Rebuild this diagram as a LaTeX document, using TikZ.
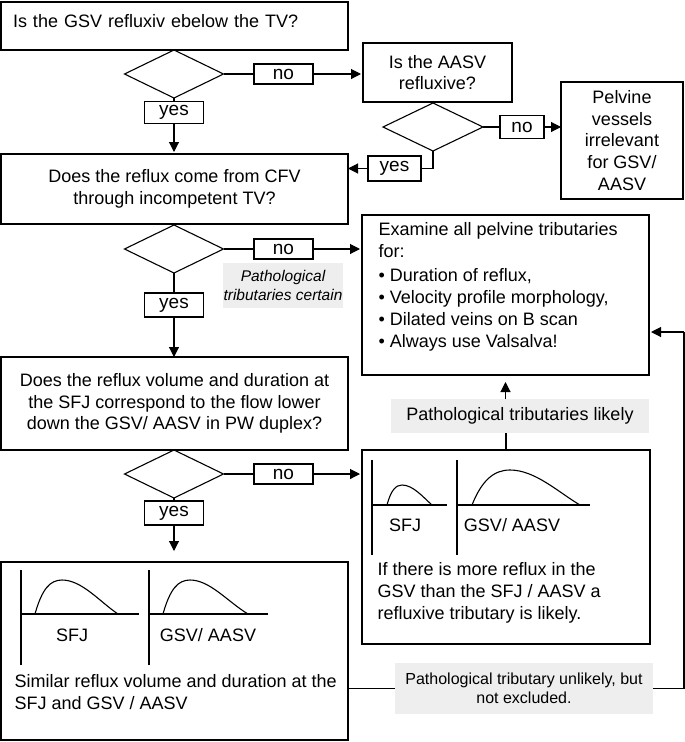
\documentclass[tikz,border=0pt]{standalone}
\usepackage{fontspec}
\setmainfont{Liberation Sans}
\usetikzlibrary{shapes.geometric,arrows.meta}
\definecolor{notegray}{HTML}{EEEEEE}

\begin{document}
\begin{tikzpicture}[x=1pt,y=-1pt,line width=1.1pt,
  font=\fontsize{18}{21.7}\selectfont,
  box node/.style={rectangle,draw,inner sep=0pt,outer sep=0pt},
  dec node/.style={diamond,draw,inner sep=0pt,outer sep=0pt,minimum width=99pt,minimum height=48pt},
  ans node/.style={rectangle,draw,inner sep=0pt,outer sep=0pt,minimum width=59pt,minimum height=21pt,font=\fontsize{19}{19}\selectfont},
  note node/.style={rectangle,fill=notegray,inner sep=0pt,outer sep=0pt,align=center},
  txt node/.style={anchor=north west,align=left,inner sep=0pt},
  arr/.style={-{Triangle[length=10pt,width=10pt]}}]

  \useasboundingbox (0,0) rectangle (685,742);

  % questions on the left
  \node[box node,minimum width=347pt,minimum height=48pt,text width=323pt,align=left,text depth=10pt] (q1) at (174.5,26) {Is the GSV refluxiv ebelow the TV?};
  \node[dec node] (d1) at (174,74) {};
  \node[ans node,minimum height=20pt] (n1) at (283.5,74) {no};
  \node[ans node,minimum height=22pt] (y1) at (174,112.5) {yes};

  \node[box node,minimum width=149pt,minimum height=59pt,align=center] (q2) at (437.5,72.5) {Is the AASV\\refluxive?};
  \node[dec node,minimum width=100pt] (d2) at (433,127) {};
  \node[ans node,minimum width=44pt,minimum height=23pt] (n2) at (522,127) {no};
  \node[box node,minimum width=122pt,minimum height=117pt,align=center] (p1) at (622,140.5) {Pelvine\\vessels\\irrelevant\\for GSV/\\AASV};
  \node[ans node,minimum width=53pt,minimum height=25pt] (y2) at (394.5,168.5) {yes};

  \node[box node,minimum width=347pt,minimum height=70pt,align=center] (q3) at (174.5,189) {Does the reflux come from CFV\\through incompetent TV?};
  \node[dec node] (d3) at (174,249) {};
  \node[ans node,minimum height=20pt] (n3) at (283.5,249) {no};
  \node[note node,minimum width=120pt,minimum height=45pt,font=\fontsize{15.5}{19}\selectfont\itshape] (g1) at (283,285) {Pathological\\tributaries certain};
  \node[ans node,minimum height=24pt] (y3) at (174,305) {yes};

  \node[box node,minimum width=347pt,minimum height=93pt,align=center] (q4) at (174.5,403.5) {Does the reflux volume and duration at\\the SFJ correspond to the flow lower\\down the GSV/ AASV in PW duplex?};
  \node[dec node] (d4) at (174,474) {};
  \node[ans node,minimum height=20pt] (n4) at (283.5,474) {no};
  \node[ans node,minimum height=24pt] (y4) at (174,513) {yes};

  % boxes on the right
  \node[box node,minimum width=287pt,minimum height=160pt] (exam) at (505.5,295) {};
  \node[txt node] (examtxt) at (378,222) {Examine all pelvine tributaries\\for:\\[3pt]
    \textbullet\ Duration of reflux,\\\textbullet\ Velocity profile morphology,\\
    \textbullet\ Dilated veins on B scan\\\textbullet\ Always use Valsalva!};
  \node[note node,minimum width=258pt,minimum height=34pt] (g2) at (520,416) {Pathological tributaries likely};
  \node[box node,minimum width=288pt,minimum height=194pt] (likely) at (506,547) {};
  \node[txt node] (likelytxt) at (377,562) {If there is more reflux in the\\GSV than the SFJ / AASV a\\refluxive tributary is likely.};
  \node[box node,minimum width=347pt,minimum height=178pt] (sim) at (174.5,651) {};
  \node[txt node] (simtxt) at (14,674) {Similar reflux volume and duration at the\\SFJ and GSV / AASV};
  \node[note node,minimum width=258pt,minimum height=51pt,font=\fontsize{16}{19.5}\selectfont] (g3) at (524,688.5) {Pathological tributary unlikely, but\\not excluded.};
  \coordinate (rt) at (684,332);

  % flow curves
  \draw (372,460) -- (372,555) (372,505) -- (447,505);
  \draw (457,460) -- (457,555) (457,505) -- (590,505);
  \draw (387,505) .. controls (391,490) and (396,485) .. (402,485) .. controls (413,485) and (423,497) .. (432,505);
  \draw (472,505) .. controls (482,480) and (494,470) .. (510,470) .. controls (535,470) and (558,492) .. (580,505);
  \node (lksfj) at (405,525) {SFJ};
  \node (lkgsv) at (512,525) {GSV/ AASV};

  \draw (21,570) -- (21,665) (21,614) -- (139,614);
  \draw (149,570) -- (149,665) (149,614) -- (268,614);
  \draw (35,614) .. controls (42,589) and (50,580) .. (62,580) .. controls (82,580) and (100,602) .. (118,614);
  \draw (163,614) .. controls (170,589) and (178,580) .. (190,580) .. controls (210,580) and (228,602) .. (248,614);
  \node (simsfj) at (72,635) {SFJ};
  \node (simgsv) at (208,635) {GSV/ AASV};

  % connectors
  \draw (d1.east) -- (n1.west);
  \draw[arr,shorten >=2pt] (n1.east) -- (n1.east -| q2.west);
  \draw (d1.south) -- (y1.north);
  \draw[arr,shorten >=2pt] (y1.south) -- (y1.south |- q3.north);
  \draw (d2.east) -- (n2.west);
  \draw[arr] (n2.east) -- (n2.east -| p1.west);
  \draw (d2.south) |- (y2.east);
  \draw[arr] (y2.west) -- (y2.west -| q3.east);
  \draw (d3.east) -- (n3.west);
  \draw[arr,shorten >=2pt] (n3.east) -- (n3.east -| exam.west);
  \draw (d3.south) -- (y3.north);
  \draw[arr] (y3.south) -- (y3.south |- q4.north);
  \draw (d4.east) -- (n4.west);
  \draw[arr,shorten >=2pt] (n4.east) -- (n4.east -| likely.west);
  \draw (d4.south) -- (y4.north);
  \draw[arr,shorten >=11pt] (y4.south) -- (y4.south |- sim.north);
  \draw (likely.north) -- (g2.south -| likely.north);
  \draw[arr,shorten >=7pt] (g2.north -| exam.south) -- (exam.south);
  \draw (g3.west -| sim.east) -- (g3.west);
  \draw (g3.east) -| (rt);
  \draw[arr,shorten >=2pt] (rt) -- (rt -| exam.east);
\end{tikzpicture}
\end{document}
